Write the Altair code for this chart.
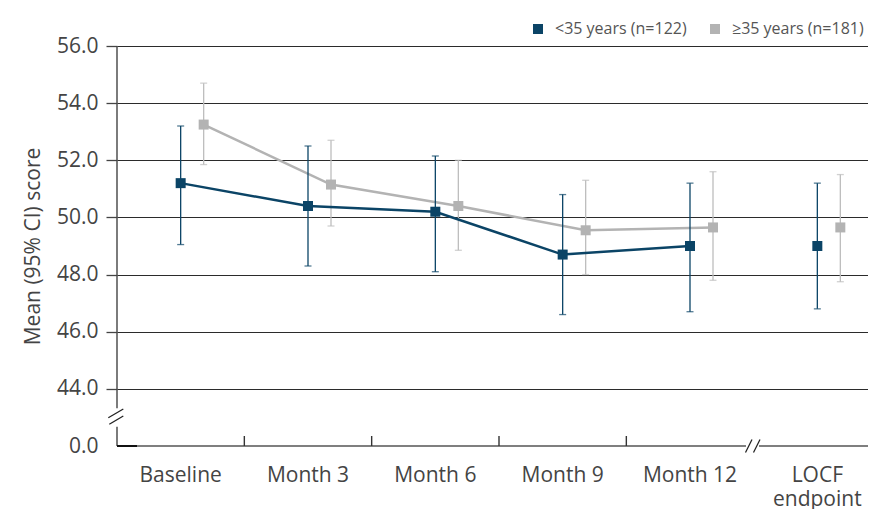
import altair as alt
import pandas as pd

categories = ["Baseline", "Month 3", "Month 6", "Month 9", "Month 12", "LOCF endpoint"]
groups = ["<35 years (n=122)", "≥35 years (n=181)"]

young_mean = [51.2, 50.4, 50.2, 48.7, 49.0, 49.0]
young_lo = [49.05, 48.3, 48.1, 46.6, 46.7, 46.8]
young_hi = [53.2, 52.5, 52.15, 50.8, 51.2, 51.2]

old_mean = [53.25, 51.15, 50.4, 49.55, 49.65, 49.65]
old_lo = [51.85, 49.7, 48.85, 48.0, 47.8, 47.75]
old_hi = [54.7, 52.7, 52.0, 51.3, 51.6, 51.5]

y_ticks = [42, 44, 46, 48, 50, 52, 54, 56]

DARK = "#0b4466"
GRAY = "#b3b3b3"
GRAY_BAR = "#bdbdbd"
FONT = "Open Sans"
TXT = "#444444"

rows = []
for i, c in enumerate(categories):
    rows.append({"cat": c, "group": groups[0], "mean": young_mean[i], "lo": young_lo[i], "hi": young_hi[i]})
    rows.append({"cat": c, "group": groups[1], "mean": old_mean[i], "lo": old_lo[i], "hi": old_hi[i]})
df = pd.DataFrame(rows)

W, H = 751, 400
XR = [0, 764]

x_enc = alt.X(
    "cat:N",
    sort=categories,
    scale=alt.Scale(domain=categories, range=XR, paddingInner=0, paddingOuter=0),
    axis=alt.Axis(
        title=None, domain=False, ticks=False, tickSize=0, grid=False, labelAngle=0,
        labelFont=FONT, labelFontSize=21, labelColor=TXT, labelPadding=18,
        labelLineHeight=24,
        labelExpr="datum.value == 'LOCF endpoint' ? ['LOCF', 'endpoint'] : datum.value",
    ),
)
y_scale = alt.Scale(domain=[42, 56], nice=False, zero=False)
y_axis = alt.Axis(
    values=y_ticks,
    labelExpr="datum.value == 42 ? '0.0' : format(datum.value, '.1f')",
    domain=False, grid=True,
    gridColor=alt.condition("datum.value == 42", alt.value("transparent"), alt.value("#2b2b2b")),
    gridWidth=1,
    tickSize=11, tickWidth=1.3,
    tickColor=alt.condition("datum.value == 42", alt.value("transparent"), alt.value("#444444")),
    labelPadding=8, labelFont=FONT, labelFontSize=21, labelColor=TXT,
    title="Mean (95% CI) score", titleFont=FONT, titleFontSize=21, titleFontWeight="normal",
    titleColor=TXT, titleX=-78, titleY=200, titleAngle=270, titleAlign="center",
    titleBaseline="alphabetic",
)

base = alt.Chart(df)
color_enc = alt.Color(
    "group:N",
    scale=alt.Scale(domain=groups, range=[DARK, GRAY]),
    legend=alt.Legend(
        title=None, orient="none", legendX=413, legendY=-25, direction="horizontal",
        symbolType="square", symbolSize=100, symbolStrokeWidth=0,
        labelFont=FONT, labelFontSize=16, labelColor="#555555", labelOffset=9,
        columnPadding=20, padding=0,
    ),
)


def series(group, col, bar_col, off):
    d = base.transform_filter(alt.datum.group == group)
    kw = {"xOffset": off} if off else {}
    bars = d.mark_rule(color=bar_col, strokeWidth=1.3, **kw).encode(
        x=x_enc, y=alt.Y("lo:Q", scale=y_scale, axis=y_axis), y2="hi:Q")
    cap_lo = d.mark_tick(color=bar_col, size=7, thickness=1.3, **kw).encode(x=x_enc, y=alt.Y("lo:Q", scale=y_scale))
    cap_hi = d.mark_tick(color=bar_col, size=7, thickness=1.3, **kw).encode(x=x_enc, y=alt.Y("hi:Q", scale=y_scale))
    line = d.transform_filter(alt.datum.cat != "LOCF endpoint").mark_line(
        color=col, strokeWidth=2.5, **kw).encode(x=x_enc, y=alt.Y("mean:Q", scale=y_scale))
    pts = d.mark_point(shape="square", filled=True, size=100, opacity=1, **kw).encode(
        x=x_enc, y=alt.Y("mean:Q", scale=y_scale), color=color_enc)
    return [bars, cap_lo, cap_hi, line, pts]


one = alt.Data(values=[{}])


def seg(x1, y1, x2, y2, color, width):
    return alt.Chart(one).mark_rule(color=color, strokeWidth=width).encode(
        x=alt.value(x1), x2=alt.value(x2), y=alt.value(y1), y2=alt.value(y2))


decor = [
    # y axis line with break
    seg(0, 0, 0, 362.3, "#444444", 1.4),
    seg(0, 380.7, 0, 400, "#444444", 1.4),
    seg(-8.7, 371.7, 6.3, 363, "#222222", 1.3),
    seg(-7.7, 378.3, 6.3, 370, "#222222", 1.3),
    # x axis line with break
    seg(0, 400, 629, 400, "#555555", 1.5),
    seg(642, 400, W, 400, "#555555", 1.5),
    seg(0, 400, 20, 400, "#111111", 2),
    seg(628.5, 406.5, 635, 393.5, "#222222", 1.3),
    seg(636.5, 406.5, 643, 393.5, "#222222", 1.3),
]

inner_ticks = alt.Chart(alt.Data(values=[{"cat": c} for c in categories[1:5]])).mark_rule(
    color="#333333", strokeWidth=1.4).encode(
    x=alt.X("cat:N", sort=categories, bandPosition=0,
            scale=alt.Scale(domain=categories, range=XR, paddingInner=0, paddingOuter=0)),
    y=alt.value(390), y2=alt.value(400))

layers = series(groups[1], GRAY, GRAY_BAR, 23) + series(groups[0], DARK, DARK, 0)

chart = alt.layer(*layers, *decor, inner_ticks).properties(
    width=W, height=H,
    autosize=alt.AutoSizeParams(type="none"),
    padding={"left": 109, "top": 38, "right": 0, "bottom": 63},
).configure_view(strokeWidth=0)

chart.save("out.html", embed_options={"renderer": "svg", "actions": False})
